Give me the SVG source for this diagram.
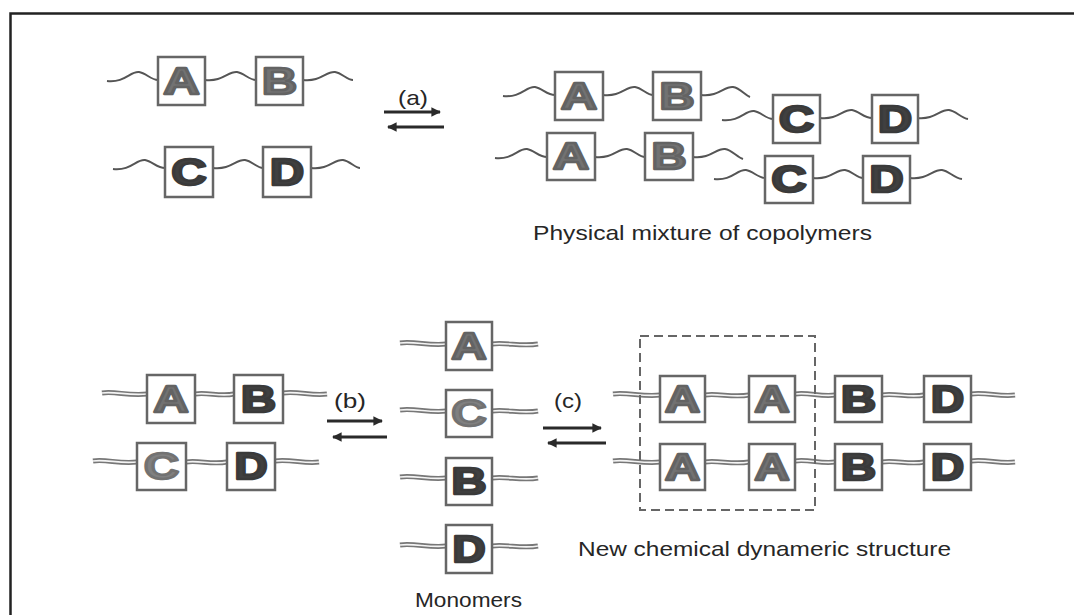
<svg xmlns="http://www.w3.org/2000/svg" width="1074" height="615" viewBox="0 0 1074 615">
<style>
.frame{fill:none;stroke:#222;stroke-width:2.5}
.box{fill:#fff;stroke:#666;stroke-width:2.5}
.wave{fill:none;stroke:#555;stroke-width:2}
.rib{fill:none;stroke:#777;stroke-width:5}
.ribin{fill:none;stroke:#f4f4f4;stroke-width:1.6}
.let{font-family:"Liberation Sans",Arial,sans-serif;font-weight:bold;font-size:37px;text-anchor:middle;stroke-width:2.6;stroke-linejoin:round}
.lg{fill:#727272;stroke:#636363}
.ld{fill:#404040;stroke:#3a3a3a}
.ll{fill:#808080;stroke:#727272}
.lab{font-family:"Liberation Sans",Arial,sans-serif;font-size:21px;fill:#262626}
.arr{stroke:#2a2a2a;stroke-width:3;fill:none}
.dash{fill:none;stroke:#666;stroke-width:2;stroke-dasharray:9 5}
</style>
<defs>
<marker id="ah" viewBox="0 0 10 10" refX="9" refY="5" markerWidth="3.5" markerHeight="3.2" orient="auto-start-reverse" markerUnits="strokeWidth">
<path d="M0,0 L10,5 L0,10 z" fill="#2a2a2a"/>
</marker>
</defs>
<rect width="1074" height="615" fill="#fff"/>
<path class="frame" d="M10.5,615 V13.5 H1074"/>

<g id="connectors">
<path class="arr" d="M384,112 H440" marker-end="url(#ah)"/>
<path class="arr" d="M444,127 H388" marker-end="url(#ah)"/>
<path class="arr" d="M327,421 H382" marker-end="url(#ah)"/>
<path class="arr" d="M387,437 H333" marker-end="url(#ah)"/>
<path class="arr" d="M543,428 H601" marker-end="url(#ah)"/>
<path class="arr" d="M606,443 H548" marker-end="url(#ah)"/>
</g>

<g id="labels">
<text class="lab" x="398" y="105" textLength="30" lengthAdjust="spacingAndGlyphs">(a)</text>
<text class="lab" x="334" y="408" textLength="32" lengthAdjust="spacingAndGlyphs">(b)</text>
<text class="lab" x="554" y="408" textLength="28" lengthAdjust="spacingAndGlyphs">(c)</text>
<text class="lab" x="533" y="240" textLength="339" lengthAdjust="spacingAndGlyphs">Physical mixture of copolymers</text>
<text class="lab" x="578" y="556" textLength="373" lengthAdjust="spacingAndGlyphs">New chemical dynameric structure</text>
<text class="lab" x="415" y="607" textLength="107" lengthAdjust="spacingAndGlyphs">Monomers</text>
</g>

<g id="chain-AB-top">
<path class="wave" d="M107,81 C125,83 130,71 139,72 C146,73 151,80 158,80 M205,80 C223,82 228,71 237,72 C244,73 249,80 256,80 M303,80 C321,82 326,71 335,72 C342,73 347,80 353,80"/>
<rect class="box" x="158" y="57" width="47" height="48"/>
<rect class="box" x="256" y="57" width="47" height="48"/>
<text class="let lg" x="181.5" y="94" textLength="36" lengthAdjust="spacingAndGlyphs">A</text>
<text class="let lg" x="279.5" y="94" textLength="35" lengthAdjust="spacingAndGlyphs">B</text>
</g>

<g id="chain-CD-top">
<path class="wave" d="M113,169 C131,171 136,159 145,160 C152,161 157,168 165,168 M213,168 C231,170 236,159 245,160 C252,161 257,168 263,168 M311,168 C329,170 334,159 343,160 C350,161 355,168 360,168"/>
<rect class="box" x="165" y="147" width="48" height="50"/>
<rect class="box" x="263" y="147" width="48" height="50"/>
<text class="let ld" x="189" y="185" textLength="35" lengthAdjust="spacingAndGlyphs">C</text>
<text class="let ld" x="287" y="185" textLength="34" lengthAdjust="spacingAndGlyphs">D</text>
</g>

<g id="mix-AB-1">
<path class="wave" d="M503,96 C521,98 526,86 535,87 C542,88 547,95 555,95 M603,95 C621,97 626,86 635,87 C642,88 647,95 653,95 M701,95 C719,97 724,86 733,87 C740,88 745,95 750,97"/>
<rect class="box" x="555" y="72" width="48" height="48"/>
<rect class="box" x="653" y="72" width="48" height="48"/>
<text class="let lg" x="579" y="109" textLength="36" lengthAdjust="spacingAndGlyphs">A</text>
<text class="let lg" x="677" y="109" textLength="35" lengthAdjust="spacingAndGlyphs">B</text>
</g>

<g id="mix-AB-2">
<path class="wave" d="M495,158 C513,160 518,148 527,149 C534,150 539,157 547,157 M595,157 C613,159 618,148 627,149 C634,150 639,157 645,157 M693,157 C711,159 716,148 725,149 C732,150 737,157 743,159"/>
<rect class="box" x="547" y="133" width="48" height="47"/>
<rect class="box" x="645" y="133" width="48" height="47"/>
<text class="let lg" x="571" y="169" textLength="36" lengthAdjust="spacingAndGlyphs">A</text>
<text class="let lg" x="669" y="169" textLength="35" lengthAdjust="spacingAndGlyphs">B</text>
</g>

<g id="mix-CD-1">
<path class="wave" d="M722,120 C740,122 745,110 754,111 C761,112 766,119 773,119 M820,118 C838,120 843,109 852,110 C859,111 864,118 872,118 M917,118 C935,120 940,109 949,110 C956,111 961,118 968,119"/>
<rect class="box" x="773" y="95" width="47" height="48"/>
<rect class="box" x="872" y="95" width="46" height="48"/>
<text class="let ld" x="796.5" y="132" textLength="35" lengthAdjust="spacingAndGlyphs">C</text>
<text class="let ld" x="895" y="132" textLength="34" lengthAdjust="spacingAndGlyphs">D</text>
</g>

<g id="mix-CD-2">
<path class="wave" d="M714,179 C732,181 737,169 746,170 C753,171 758,178 765,178 M813,178 C831,180 836,169 845,170 C852,171 857,178 863,178 M910,178 C928,180 933,169 942,170 C949,171 954,178 962,179"/>
<rect class="box" x="765" y="156" width="48" height="47"/>
<rect class="box" x="863" y="156" width="47" height="47"/>
<text class="let ld" x="789" y="192" textLength="35" lengthAdjust="spacingAndGlyphs">C</text>
<text class="let ld" x="886.5" y="192" textLength="34" lengthAdjust="spacingAndGlyphs">D</text>
</g>

<g id="chain-AB-bottom">
<path class="rib" d="M102,393 C115,391 128,396 147,394 M195,394 C208,392 220,397 234,394 M283,393 C298,391 312,396 327,394"/>
<path class="ribin" d="M102,393 C115,391 128,396 147,394 M195,394 C208,392 220,397 234,394 M283,393 C298,391 312,396 327,394"/>
<rect class="box" x="147" y="375" width="48" height="48"/>
<rect class="box" x="234" y="375" width="49" height="48"/>
<text class="let lg" x="171" y="412" textLength="35" lengthAdjust="spacingAndGlyphs">A</text>
<text class="let ld" x="258.5" y="412" textLength="35" lengthAdjust="spacingAndGlyphs">B</text>
</g>

<g id="chain-CD-bottom">
<path class="rib" d="M93,461 C106,459 119,464 137,462 M186,462 C199,460 212,465 227,462 M275,461 C290,459 305,464 319,462"/>
<path class="ribin" d="M93,461 C106,459 119,464 137,462 M186,462 C199,460 212,465 227,462 M275,461 C290,459 305,464 319,462"/>
<rect class="box" x="137" y="443" width="49" height="47"/>
<rect class="box" x="227" y="443" width="48" height="47"/>
<text class="let ll" x="161.5" y="479" textLength="35" lengthAdjust="spacingAndGlyphs">C</text>
<text class="let ld" x="251" y="479" textLength="33" lengthAdjust="spacingAndGlyphs">D</text>
</g>

<g id="monomer-A">
<path class="rib" d="M400,343 C414,341 430,346 446,344 M492,344 C506,342 522,347 538,344"/>
<path class="ribin" d="M400,343 C414,341 430,346 446,344 M492,344 C506,342 522,347 538,344"/>
<rect class="box" x="446" y="322" width="46" height="48"/>
<text class="let lg" x="469" y="359" textLength="35" lengthAdjust="spacingAndGlyphs">A</text>
</g>
<g id="monomer-C">
<path class="rib" d="M400,410 C414,408 430,413 446,411 M492,411 C506,409 522,414 538,411"/>
<path class="ribin" d="M400,410 C414,408 430,413 446,411 M492,411 C506,409 522,414 538,411"/>
<rect class="box" x="446" y="390" width="46" height="47"/>
<text class="let ll" x="469" y="426" textLength="35" lengthAdjust="spacingAndGlyphs">C</text>
</g>
<g id="monomer-B">
<path class="rib" d="M400,477 C414,475 430,480 446,478 M492,478 C506,476 522,481 538,478"/>
<path class="ribin" d="M400,477 C414,475 430,480 446,478 M492,478 C506,476 522,481 538,478"/>
<rect class="box" x="446" y="458" width="46" height="47"/>
<text class="let ld" x="469" y="494" textLength="35" lengthAdjust="spacingAndGlyphs">B</text>
</g>
<g id="monomer-D">
<path class="rib" d="M400,545 C414,543 430,548 446,546 M492,546 C506,544 522,549 538,546"/>
<path class="ribin" d="M400,545 C414,543 430,548 446,546 M492,546 C506,544 522,549 538,546"/>
<rect class="box" x="446" y="525" width="46" height="48"/>
<text class="let ld" x="469" y="562" textLength="33" lengthAdjust="spacingAndGlyphs">D</text>
</g>

<g id="dynamer-row-1">
<path class="rib" d="M613,394 C627,392 643,397 660,395 M705,395 C718,393 733,398 749,395 M795,394 C808,392 821,397 835,395 M882,395 C896,393 910,398 924,395 M971,394 C986,392 1000,397 1015,395"/>
<path class="ribin" d="M613,394 C627,392 643,397 660,395 M705,395 C718,393 733,398 749,395 M795,394 C808,392 821,397 835,395 M882,395 C896,393 910,398 924,395 M971,394 C986,392 1000,397 1015,395"/>
<rect class="box" x="660" y="376" width="45" height="46"/>
<rect class="box" x="749" y="376" width="46" height="46"/>
<rect class="box" x="835" y="376" width="47" height="46"/>
<rect class="box" x="924" y="376" width="47" height="46"/>
<text class="let lg" x="682.5" y="412" textLength="35" lengthAdjust="spacingAndGlyphs">A</text>
<text class="let lg" x="772" y="412" textLength="35" lengthAdjust="spacingAndGlyphs">A</text>
<text class="let ld" x="858.5" y="412" textLength="35" lengthAdjust="spacingAndGlyphs">B</text>
<text class="let ld" x="947.5" y="412" textLength="33" lengthAdjust="spacingAndGlyphs">D</text>
</g>

<g id="dynamer-row-2">
<path class="rib" d="M613,461 C627,459 643,464 660,462 M705,462 C718,460 733,465 749,462 M795,461 C808,459 821,464 835,462 M882,462 C896,460 910,465 924,462 M971,461 C986,459 1000,464 1015,462"/>
<path class="ribin" d="M613,461 C627,459 643,464 660,462 M705,462 C718,460 733,465 749,462 M795,461 C808,459 821,464 835,462 M882,462 C896,460 910,465 924,462 M971,461 C986,459 1000,464 1015,462"/>
<rect class="box" x="660" y="444" width="45" height="46"/>
<rect class="box" x="749" y="444" width="46" height="46"/>
<rect class="box" x="835" y="444" width="47" height="46"/>
<rect class="box" x="924" y="444" width="47" height="46"/>
<text class="let lg" x="682.5" y="480" textLength="35" lengthAdjust="spacingAndGlyphs">A</text>
<text class="let lg" x="772" y="480" textLength="35" lengthAdjust="spacingAndGlyphs">A</text>
<text class="let ld" x="858.5" y="480" textLength="35" lengthAdjust="spacingAndGlyphs">B</text>
<text class="let ld" x="947.5" y="480" textLength="33" lengthAdjust="spacingAndGlyphs">D</text>
</g>

<g id="dashed-selection">
<rect class="dash" x="640" y="336" width="175" height="174"/>
</g>
</svg>
